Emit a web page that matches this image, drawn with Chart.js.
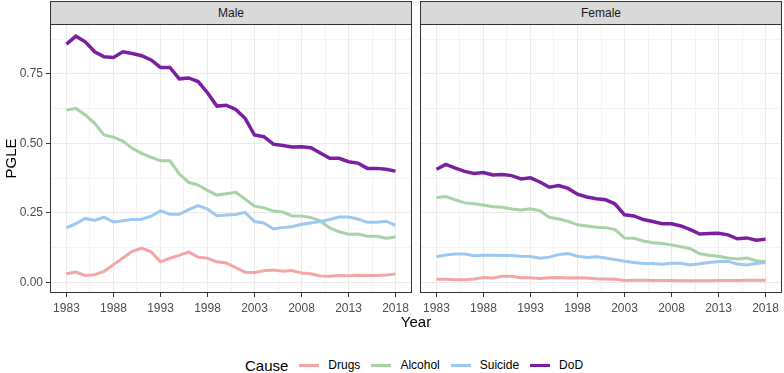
<!DOCTYPE html>
<html>
<head>
<meta charset="utf-8">
<script src="https://cdn.jsdelivr.net/npm/chart.js@4.4.0/dist/chart.umd.min.js"></script>
<style>
  body { margin: 0; width: 784px; height: 373px; background: #fff; position: relative; overflow: hidden;
         font-family: "Liberation Sans", Arial, sans-serif; }
  canvas { position: absolute; }
  .strip { position: absolute; top: 1px; height: 24px; box-sizing: border-box; background: #D9D9D9;
           border: 1px solid #333; font-size: 12px; color: #1A1A1A; text-align: center; line-height: 22px; }
  #xtitle { position: absolute; top: 313px; left: 416px; transform: translateX(-50%); font-size: 15px; line-height: 18px; color: #000; }
  #legend { position: absolute; top: 356px; left: 245px; height: 18px; display: flex; align-items: center; }
  #legend .title { font-size: 15px; margin-right: 11px; color: #000; }
  #legend .key { width: 20px; height: 3px; margin-right: 9px; }
  #legend .lab { font-size: 12px; margin-right: 11px; color: #000; }
</style>
</head>
<body>
<div class="strip" style="left:50px;width:362px;">Male</div>
<div class="strip" style="left:420px;width:362px;">Female</div>
<canvas id="maleChart" width="413" height="300" style="left:0;top:24px;"></canvas>
<canvas id="femaleChart" width="364" height="300" style="left:420px;top:24px;"></canvas>
<div id="xtitle">Year</div>
<div id="legend"></div>
<script>
// Data (PGLE by cause, 1983-2018)
const years = [1983, 1984, 1985, 1986, 1987, 1988, 1989, 1990, 1991, 1992, 1993, 1994,
  1995, 1996, 1997, 1998, 1999, 2000, 2001, 2002, 2003, 2004, 2005, 2006,
  2007, 2008, 2009, 2010, 2011, 2012, 2013, 2014, 2015, 2016, 2017, 2018];

const causes = ['Drugs', 'Alcohol', 'Suicide', 'DoD'];
const causeColors = ['#F2A7A6', '#A7D3A7', '#9DC8F0', '#7B1FA2'];
const causeWidths = [3, 3, 3, 3.5];

const maleDrugs = [0.031, 0.037, 0.025, 0.028, 0.040, 0.064, 0.088, 0.112, 0.123, 0.110, 0.074, 0.087,
  0.097, 0.110, 0.091, 0.087, 0.074, 0.070, 0.053, 0.037, 0.036, 0.042, 0.045, 0.040,
  0.043, 0.034, 0.031, 0.023, 0.022, 0.025, 0.024, 0.026, 0.025, 0.025, 0.027, 0.030];
const maleAlcohol = [0.620, 0.626, 0.602, 0.572, 0.530, 0.522, 0.508, 0.482, 0.464, 0.450, 0.437, 0.437,
  0.390, 0.360, 0.350, 0.331, 0.314, 0.319, 0.324, 0.300, 0.274, 0.268, 0.257, 0.253,
  0.239, 0.239, 0.233, 0.221, 0.196, 0.182, 0.173, 0.174, 0.166, 0.166, 0.159, 0.163];
const maleSuicide = [0.196, 0.211, 0.230, 0.223, 0.235, 0.217, 0.222, 0.226, 0.227, 0.238, 0.257, 0.245,
  0.245, 0.262, 0.276, 0.264, 0.240, 0.242, 0.244, 0.252, 0.219, 0.214, 0.192, 0.197,
  0.200, 0.209, 0.214, 0.219, 0.226, 0.235, 0.235, 0.228, 0.216, 0.216, 0.220, 0.205];
const maleDoD = [0.857, 0.885, 0.865, 0.829, 0.811, 0.809, 0.829, 0.823, 0.815, 0.800, 0.773, 0.773,
  0.732, 0.735, 0.722, 0.682, 0.634, 0.637, 0.622, 0.590, 0.530, 0.524, 0.497, 0.492,
  0.487, 0.488, 0.484, 0.465, 0.446, 0.446, 0.434, 0.429, 0.410, 0.410, 0.407, 0.400];

const femaleDrugs = [0.011, 0.011, 0.010, 0.010, 0.012, 0.018, 0.016, 0.022, 0.022, 0.017, 0.017, 0.014,
  0.017, 0.018, 0.016, 0.017, 0.016, 0.013, 0.012, 0.011, 0.007, 0.008, 0.008, 0.007,
  0.007, 0.007, 0.006, 0.006, 0.006, 0.006, 0.007, 0.007, 0.007, 0.008, 0.008, 0.008];
const femaleAlcohol = [0.305, 0.309, 0.297, 0.286, 0.283, 0.278, 0.272, 0.270, 0.264, 0.260, 0.265, 0.258,
  0.234, 0.228, 0.220, 0.207, 0.203, 0.198, 0.197, 0.190, 0.160, 0.159, 0.149, 0.143,
  0.140, 0.135, 0.128, 0.121, 0.103, 0.098, 0.094, 0.088, 0.084, 0.088, 0.078, 0.074];
const femaleSuicide = [0.092, 0.099, 0.102, 0.102, 0.096, 0.098, 0.098, 0.097, 0.097, 0.094, 0.093, 0.087,
  0.091, 0.100, 0.104, 0.094, 0.090, 0.092, 0.088, 0.082, 0.076, 0.072, 0.068, 0.068,
  0.065, 0.069, 0.069, 0.063, 0.067, 0.072, 0.075, 0.076, 0.066, 0.063, 0.068, 0.072];
const femaleDoD = [0.407, 0.424, 0.411, 0.399, 0.392, 0.395, 0.386, 0.388, 0.384, 0.372, 0.376, 0.361,
  0.342, 0.348, 0.338, 0.317, 0.307, 0.301, 0.297, 0.282, 0.243, 0.239, 0.226, 0.219,
  0.211, 0.211, 0.203, 0.190, 0.174, 0.176, 0.177, 0.171, 0.157, 0.160, 0.152, 0.155];

const xMajor = [1983, 1988, 1993, 1998, 2003, 2008, 2013, 2018];
const yMajor = [0, 0.25, 0.5, 0.75];

// ggplot-style limits: data range expanded by 5%
const xMin = 1981.25, xMax = 2019.75;
const yMin = -0.038, yMax = 0.929;

// Minor grid positions sit halfway between majors
function withMinor(major, lo, hi) {
  const step = major[1] - major[0];
  const out = [];
  for (let v = major[0] - step / 2; v <= hi; v += step / 2) {
    if (v >= lo) out.push(+v.toFixed(4));
  }
  return out;
}
const xTicks = withMinor(xMajor, xMin, xMax);
const yTicks = withMinor(yMajor, yMin, yMax);

Chart.defaults.font.family = '"Liberation Sans", Arial, sans-serif';

// Full rectangle round each panel (theme_bw)
const panelBorder = {
  id: 'panelBorder',
  afterDraw(chart) {
    const { ctx, chartArea: a } = chart;
    ctx.save();
    ctx.strokeStyle = '#333333';
    ctx.lineWidth = 1;
    ctx.strokeRect(Math.round(a.left) + 0.5, Math.round(a.top) + 0.5,
      Math.round(a.right - a.left) - 1, Math.round(a.bottom - a.top) - 1);
    ctx.restore();
  }
};

function makeDatasets(series) {
  return series.map((vals, i) => ({
    label: causes[i],
    data: years.map((yr, j) => ({ x: yr, y: vals[j] })),
    borderColor: causeColors[i],
    borderWidth: causeWidths[i],
    pointRadius: 0,
    tension: 0,
    order: series.length - i
  }));
}

function makeOptions(showY) {
  const isMajorX = v => xMajor.includes(v);
  const isMajorY = v => yMajor.includes(v);
  return {
    responsive: false,
    animation: false,
    layout: { padding: { top: 0, left: 0, bottom: 0, right: showY ? 1 : 2 } },
    plugins: { legend: { display: false }, tooltip: { enabled: false } },
    scales: {
      x: {
        type: 'linear',
        min: xMin,
        max: xMax,
        afterBuildTicks: s => { s.ticks = xTicks.map(v => ({ value: v })); },
        afterFit: s => { s.height = 31; s.paddingLeft = 0; s.paddingRight = 0; },
        ticks: {
          autoSkip: false, maxRotation: 0, padding: 4, color: '#4D4D4D', font: { size: 12 },
          callback: v => isMajorX(v) ? String(v) : ''
        },
        grid: {
          color: '#EBEBEB',
          lineWidth: c => isMajorX(c.tick.value) ? 1 : 0.6,
          tickLength: 4,
          tickWidth: 1,
          tickColor: c => isMajorX(c.tick.value) ? '#333333' : 'rgba(0,0,0,0)'
        },
        border: { display: false }
      },
      y: {
        type: 'linear',
        min: yMin,
        max: yMax,
        afterBuildTicks: s => { s.ticks = yTicks.map(v => ({ value: v })); },
        afterFit: s => { s.width = showY ? 50 : 0; s.paddingTop = 0; s.paddingBottom = 0; },
        title: {
          display: showY, text: 'PGLE', color: '#000', font: { size: 15 },
          padding: { top: 3, bottom: 0 }
        },
        ticks: {
          display: showY, padding: 3, color: '#4D4D4D', font: { size: 12 },
          callback: v => isMajorY(v) ? v.toFixed(2) : ''
        },
        grid: {
          color: '#EBEBEB',
          lineWidth: c => isMajorY(c.tick.value) ? 1 : 0.6,
          drawTicks: showY,
          tickLength: 4,
          tickWidth: 1,
          tickColor: c => isMajorY(c.tick.value) ? '#333333' : 'rgba(0,0,0,0)'
        },
        border: { display: false }
      }
    }
  };
}

new Chart(document.getElementById('maleChart'), {
  type: 'line',
  data: { datasets: makeDatasets([maleDrugs, maleAlcohol, maleSuicide, maleDoD]) },
  options: makeOptions(true),
  plugins: [panelBorder]
});

new Chart(document.getElementById('femaleChart'), {
  type: 'line',
  data: { datasets: makeDatasets([femaleDrugs, femaleAlcohol, femaleSuicide, femaleDoD]) },
  options: makeOptions(false),
  plugins: [panelBorder]
});

// Legend row below the panels
const legend = document.getElementById('legend');
legend.innerHTML = '<span class="title">Cause</span>' + causes.map((c, i) =>
  `<span class="key" style="background:${causeColors[i]}"></span><span class="lab">${c}</span>`).join('');
</script>
</body>
</html>
